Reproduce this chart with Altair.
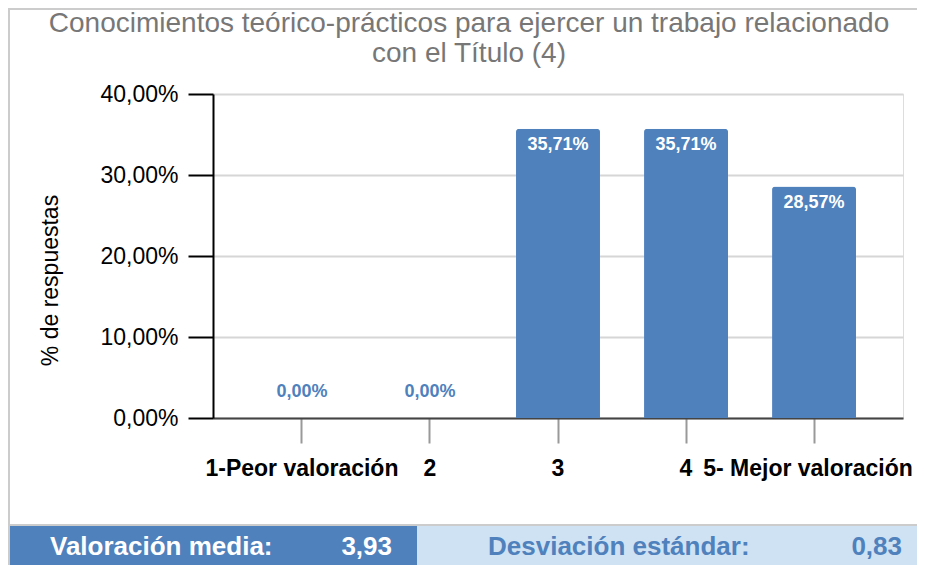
import altair as alt
import pandas as pd

# ---- data ----
categories = ["1-Peor valoración", "2", "3", "4", "5- Mejor valoración"]
percentages = [0.00, 0.00, 35.71, 35.71, 28.57]
title_lines = ["Conocimientos teórico-prácticos para ejercer un trabajo relacionado",
               "con el Título (4)"]
y_title = "% de respuestas"
y_ticks = [0, 10, 20, 30, 40]
summary_labels = ["Valoración media:", "Desviación estándar:"]
summary_values = [3.93, 0.83]

FONT = "Liberation Sans"
BLUE = "#4f81bd"
LIGHT = "#cfe2f3"
TITLE_GRAY = "#777777"

def es(v):
    return f"{v:.2f}".replace(".", ",")

df = pd.DataFrame({"cat": categories, "pct": percentages})
df["label"] = [es(v) + "%" for v in percentages]
one = pd.DataFrame({"k": [0]})

W, H = 690, 324
SVG_W, SVG_H = 909, 557
PAD_L, PAD_T = 205, 86
BOTTOM = SVG_H - PAD_T  # plot-y of svg bottom edge

last_label_test = "datum.value == '" + categories[-1] + "'"

x_enc = alt.X(
    "cat:N", sort=categories,
    scale=alt.Scale(paddingInner=0.344, paddingOuter=0.367),
    axis=alt.Axis(title=None, labelAngle=0, labelFont=FONT, labelFontSize=23,
                  labelFontWeight="bold", labelColor="black", labelPadding=14,
                  labelOverlap=False, labelBound=False, labelFlush=False, labelLimit=0,
                  labelOffset={"condition": {"test": last_label_test, "value": -6},
                               "value": 0},
                  tickSize=25, tickColor="#999999", tickWidth=2,
                  domainColor="#444444", domainWidth=2, grid=False),
)
y_enc = alt.Y(
    "pct:Q",
    scale=alt.Scale(domain=[0, 40], nice=False),
    axis=alt.Axis(title=y_title, values=y_ticks,
                  labelExpr="replace(format(datum.value, '.2f'), '.', ',') + '%'",
                  labelFont=FONT, labelFontSize=23, labelColor="black", labelPadding=10,
                  tickSize=25, tickColor="black", tickWidth=2,
                  domainColor="black", domainWidth=2,
                  grid=True, gridColor="#d6d6d6", gridWidth=2,
                  titleFont=FONT, titleFontSize=23, titleFontWeight="normal",
                  titleColor="black", titleAngle=270, titleBaseline="alphabetic",
                  titleAlign="center", titleX=-156, titleY=186),
)

bars = alt.Chart(df).mark_bar(color=BLUE, cornerRadiusTopLeft=3,
                              cornerRadiusTopRight=3).encode(x=x_enc, y=y_enc)

inside = alt.Chart(df).transform_filter("datum.pct > 0").mark_text(
    font=FONT, fontSize=18, fontWeight="bold", color="white", baseline="top", dy=7
).encode(x=alt.X("cat:N", sort=categories), y="pct:Q", text="label:N")

zero = alt.Chart(df).transform_filter("datum.pct == 0").mark_text(
    font=FONT, fontSize=18, fontWeight="bold", color=BLUE, baseline="alphabetic", dy=-21
).encode(x=alt.X("cat:N", sort=categories), y="pct:Q", text="label:N")

title = alt.Chart(one).mark_text(
    font=FONT, fontSize=28, color=TITLE_GRAY, align="center",
    baseline="alphabetic", lineHeight=30
).encode(x=alt.value(256), y=alt.value(-62), text=alt.value(title_lines))

band_dark = alt.Chart(one).mark_rect(color=BLUE).encode(
    x=alt.value(-203), x2=alt.value(204), y=alt.value(432), y2=alt.value(BOTTOM + 20))
band_light = alt.Chart(one).mark_rect(color=LIGHT).encode(
    x=alt.value(204), x2=alt.value(740), y=alt.value(432), y2=alt.value(BOTTOM + 20))
band_line = alt.Chart(one).mark_rule(color="#cccccc", strokeWidth=2).encode(
    x=alt.value(-205), x2=alt.value(740), y=alt.value(431))
frame = alt.Chart(one).mark_rect(fillOpacity=0, stroke="#cccccc", strokeWidth=2).encode(
    x=alt.value(-204), x2=alt.value(760), y=alt.value(-85), y2=alt.value(BOTTOM + 40))

txt_style = dict(font=FONT, fontSize=26, fontWeight="bold", baseline="alphabetic")
t1 = alt.Chart(one).mark_text(color="white", align="left", **txt_style).encode(
    x=alt.value(-163), y=alt.value(461), text=alt.value(summary_labels[0]))
v1 = alt.Chart(one).mark_text(color="white", align="right", **txt_style).encode(
    x=alt.value(179), y=alt.value(461), text=alt.value(es(summary_values[0])))
t2 = alt.Chart(one).mark_text(color=BLUE, align="left", **txt_style).encode(
    x=alt.value(275), y=alt.value(461), text=alt.value(summary_labels[1]))
v2 = alt.Chart(one).mark_text(color=BLUE, align="right", **txt_style).encode(
    x=alt.value(689), y=alt.value(461), text=alt.value(es(summary_values[1])))

chart = alt.layer(
    band_dark, band_light, band_line, frame, bars, inside, zero, title, t1, v1, t2, v2
).properties(
    width=W, height=H,
    autosize=alt.AutoSizeParams(type="none"),
    padding={"left": PAD_L, "top": PAD_T, "right": SVG_W - PAD_L - W,
             "bottom": SVG_H - PAD_T - H},
).configure_view(stroke=None).configure(background="white")

chart.save("out.html", embed_options={"renderer": "svg", "actions": False})
